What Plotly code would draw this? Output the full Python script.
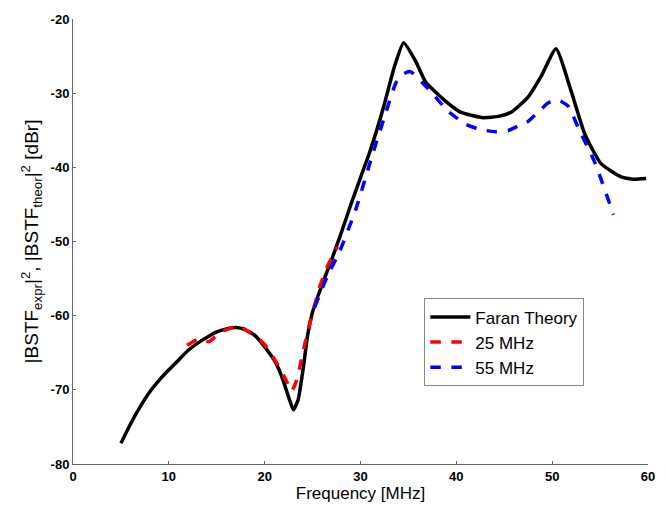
import plotly.graph_objects as go

theory_x = [5, 6, 7, 8, 9, 10, 11, 12, 13, 14, 15, 16, 17, 18, 19, 20, 21, 21.5, 22, 22.5, 23, 23.5, 24, 24.5, 25, 26, 27, 28, 29, 30, 31, 32.4, 33.5, 34.5, 35.8, 36.8, 38.9, 40.5, 42.8, 44.5, 45.8, 47.5, 48.9, 50.4, 52, 53.4, 55.1, 57.2, 58.5, 59.8]
theory_y = [-77.2, -74.6, -72.3, -70.3, -68.7, -67.3, -66.0, -64.7, -63.7, -62.9, -62.2, -61.8, -61.6, -61.9, -62.7, -64.2, -66.0, -67.3, -69.0, -71.0, -72.7, -71.3, -67.3, -62.5, -59.5, -55.8, -52.4, -48.8, -45.0, -41.4, -37.8, -31.9, -26.6, -23.2, -25.8, -28.5, -31.1, -32.6, -33.3, -33.1, -32.5, -30.5, -27.6, -24.0, -29.8, -35.5, -39.5, -41.3, -41.6, -41.5]

r25_x = [11.9, 13.0, 14.2, 15.4, 16.6, 17.3, 18.1, 19.2, 20.2, 21.5, 22.2, 22.8, 23.2, 23.6, 24.1, 24.6, 25.2, 25.7, 26.5, 27.6]
r25_y = [-64.0, -63.2, -63.5, -62.2, -61.6, -61.3, -62.0, -62.9, -64.2, -66.9, -68.6, -70.2, -69.2, -67.3, -64.3, -61.6, -58.7, -56.3, -53.5, -50.7]

r55_x = [25.2, 26.5, 27.8, 29.5, 31.2, 32.6, 33.7, 34.5, 35.2, 36.4, 37.8, 39.2, 41.0, 42.5, 44.1, 45.5, 46.8, 47.5, 48.5, 49.6, 50.6, 51.7, 52.7, 54.5, 56.4]
r55_y = [-58.9, -54.8, -51.4, -45.7, -38.5, -32.8, -28.6, -27.4, -27.1, -28.5, -30.5, -32.5, -34.2, -34.9, -35.2, -35.0, -34.2, -33.8, -32.6, -31.3, -30.9, -31.8, -34.6, -39.5, -46.4]

x_ticks = [0, 10, 20, 30, 40, 50, 60]
y_ticks = [-80, -70, -60, -50, -40, -30, -20]

FONT = "Liberation Sans, Arial, sans-serif"

fig = go.Figure()
fig.add_trace(go.Scatter(x=theory_x, y=theory_y, mode="lines", name="Faran Theory",
                         line=dict(color="black", width=3.5, shape="spline", smoothing=0.5)))
fig.add_trace(go.Scatter(x=r25_x, y=r25_y, mode="lines", name="25 MHz",
                         line=dict(color="#ff0000", width=3.5, dash="dash", shape="spline", smoothing=0.5)))
fig.add_trace(go.Scatter(x=r55_x, y=r55_y, mode="lines", name="55 MHz",
                         line=dict(color="#0000ff", width=3.5, dash="dash", shape="spline", smoothing=0.5)))

axis_common = dict(showgrid=False, zeroline=False, showline=True, linecolor="#666666", linewidth=1,
                   ticks="inside", ticklen=3, tickcolor="#666666",
                   tickfont=dict(family=FONT, size=13, color="black"))

fig.update_layout(
    width=667, height=510,
    margin=dict(l=73, r=17, t=13, b=44),
    paper_bgcolor="white", plot_bgcolor="white",
    showlegend=True,
    legend=dict(x=0.611, y=0.372, xanchor="left", yanchor="top",
                bordercolor="#888888", borderwidth=1, bgcolor="white",
                font=dict(family=FONT, size=17, color="black"),
                tracegroupgap=0, itemwidth=40),
    xaxis=dict(range=[0, 60], tickvals=x_ticks, ticktext=[f"<b>{v}</b>" for v in x_ticks],
               title=dict(text="Frequency [MHz]", font=dict(family=FONT, size=17, color="black"), standoff=3),
               **axis_common),
    yaxis=dict(range=[-80, -20], tickvals=y_ticks, ticktext=[f"<b>{v}</b>" for v in y_ticks],
               title=dict(text="|BSTF<sub>expr</sub>|<sup>2</sup>, |BSTF<sub>theor</sub>|<sup>2</sup> [dBr]",
                          font=dict(family=FONT, size=19, color="black"), standoff=6),
               **axis_common),
)

fig.write_html("out.html")
